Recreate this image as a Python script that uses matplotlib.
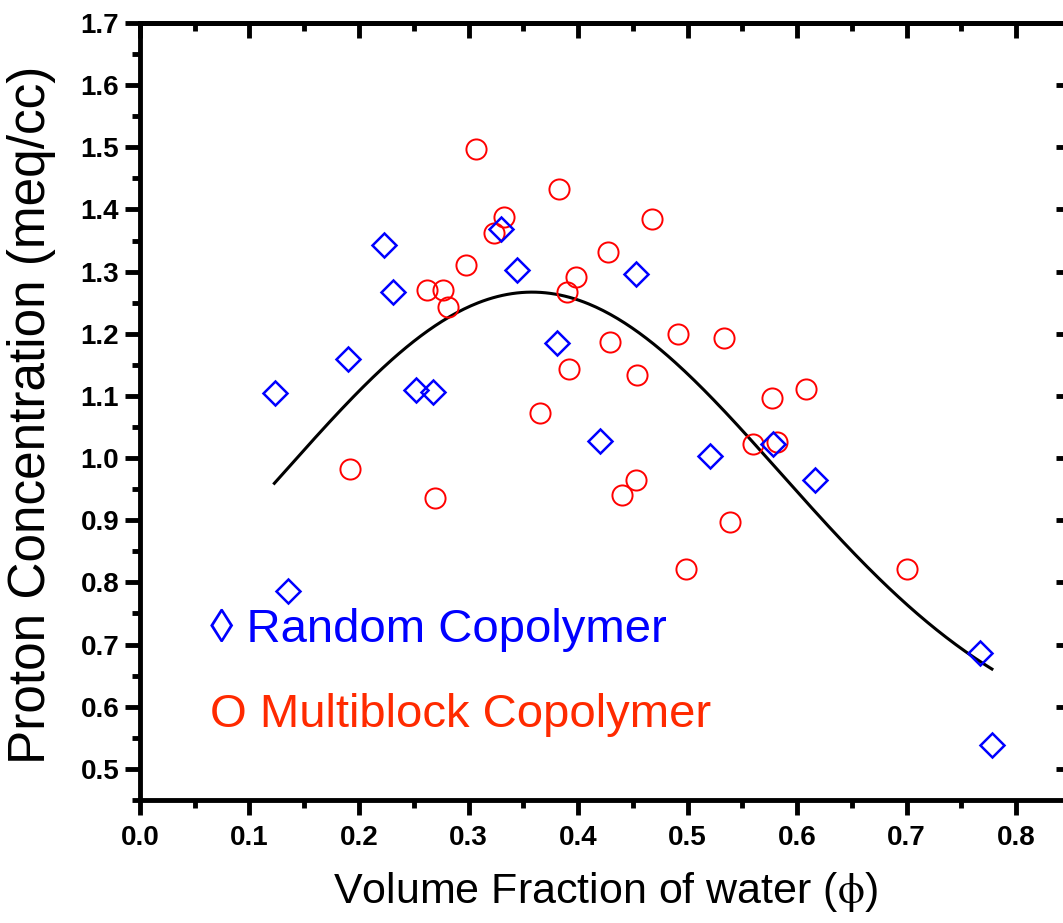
import numpy as np
import matplotlib
matplotlib.use("Agg")
import matplotlib.pyplot as plt
from matplotlib.ticker import FormatStrFormatter, MultipleLocator

plt.rcParams['font.family'] = ['Liberation Sans', 'DejaVu Sans']
plt.rcParams['mathtext.fontset'] = 'stix'

# random copolymer (diamonds)
rand_phi = [0.123, 0.135, 0.190, 0.223, 0.231, 0.252, 0.268, 0.330, 0.344, 0.381,
            0.420, 0.453, 0.521, 0.578, 0.616, 0.767, 0.778]
rand_conc = [1.104, 0.786, 1.159, 1.343, 1.267, 1.109, 1.106, 1.368, 1.302, 1.185,
             1.027, 1.296, 1.003, 1.023, 0.965, 0.687, 0.539]

# multiblock copolymer (circles)
multi_phi = [0.192, 0.262, 0.269, 0.277, 0.281, 0.298, 0.307, 0.323, 0.332, 0.365,
             0.383, 0.390, 0.392, 0.398, 0.427, 0.429, 0.440, 0.453, 0.454, 0.468,
             0.491, 0.499, 0.533, 0.539, 0.560, 0.577, 0.582, 0.608, 0.700]
multi_conc = [0.982, 1.270, 0.935, 1.271, 1.243, 1.310, 1.498, 1.362, 1.388, 1.072,
              1.433, 1.267, 1.144, 1.291, 1.331, 1.186, 0.941, 0.965, 1.134, 1.385,
              1.199, 0.822, 1.194, 0.897, 1.022, 1.097, 1.026, 1.111, 0.821]

# gaussian fit through both sets
fit_y0 = 0.527
fit_A = 0.74
fit_xc = 0.358
fit_w = 0.227
fit_range = (0.1227, 0.778)

fig = plt.figure(figsize=(10.63, 9.23), dpi=100)
ax = fig.add_axes([0.1317, 0.1333, 0.8756, 0.8418])

xf = np.linspace(fit_range[0], fit_range[1], 300)
yf = fit_y0 + fit_A * np.exp(-(xf - fit_xc) ** 2 / (2 * fit_w ** 2))
ax.plot(xf, yf, color='black', lw=2.2, zorder=2)

ax.plot(multi_phi, multi_conc, 'o', ms=14.5, mfc='none', mec='#FF0000', mew=1.4, zorder=3)
ax.plot(rand_phi, rand_conc, 'D', ms=12.5, mfc='none', mec='#0000FF', mew=1.8, zorder=4)

ax.set_xlim(0, 0.85)
ax.set_ylim(0.45, 1.7)

for s in ax.spines.values():
    s.set_linewidth(3.5)

# bottom/left: outward ticks with labels
ax.xaxis.set_major_locator(MultipleLocator(0.1))
ax.xaxis.set_minor_locator(MultipleLocator(0.05))
ax.yaxis.set_minor_locator(MultipleLocator(0.05))
ax.set_yticks([v / 10 for v in range(5, 18)])
ax.xaxis.set_major_formatter(FormatStrFormatter('%.1f'))
ax.yaxis.set_major_formatter(FormatStrFormatter('%.1f'))
ax.tick_params(which='both', width=3.5, direction='out')
ax.tick_params(which='major', length=11)
ax.tick_params(which='minor', length=6)
ax.tick_params(axis='x', labelsize=20, pad=7)
ax.tick_params(axis='y', labelsize=20, pad=4)
for lab in ax.get_xticklabels() + ax.get_yticklabels():
    lab.set_fontweight('bold')

# top/right: inward ticks, no labels
top = ax.secondary_xaxis('top')
right = ax.secondary_yaxis('right')
top.xaxis.set_major_locator(MultipleLocator(0.1))
top.xaxis.set_minor_locator(MultipleLocator(0.05))
right.yaxis.set_major_locator(MultipleLocator(0.1))
right.yaxis.set_minor_locator(MultipleLocator(0.05))
for sec in (top, right):
    sec.spines[:].set_linewidth(3.5)
    sec.tick_params(which='both', width=3.5, direction='in',
                    labeltop=False, labelright=False)
    sec.tick_params(which='major', length=11)
    sec.tick_params(which='minor', length=6)

ax.set_xlabel('Volume Fraction of water ($\\mathrm{\\phi}$)', fontsize=31, labelpad=14)
ax.set_ylabel('Proton Concentration (meq/cc)', fontsize=37)
ax.yaxis.set_label_coords(-0.09, 0.495)

ax.text(0.0752, 0.2037, '\u25ca Random Copolymer', transform=ax.transAxes,
        fontsize=34, color='#0000FF', va='baseline')
ax.text(0.0752, 0.0943, 'O Multiblock Copolymer', transform=ax.transAxes,
        fontsize=34, color='#FF2A00', va='baseline')

fig.savefig('out.png', dpi=100)
